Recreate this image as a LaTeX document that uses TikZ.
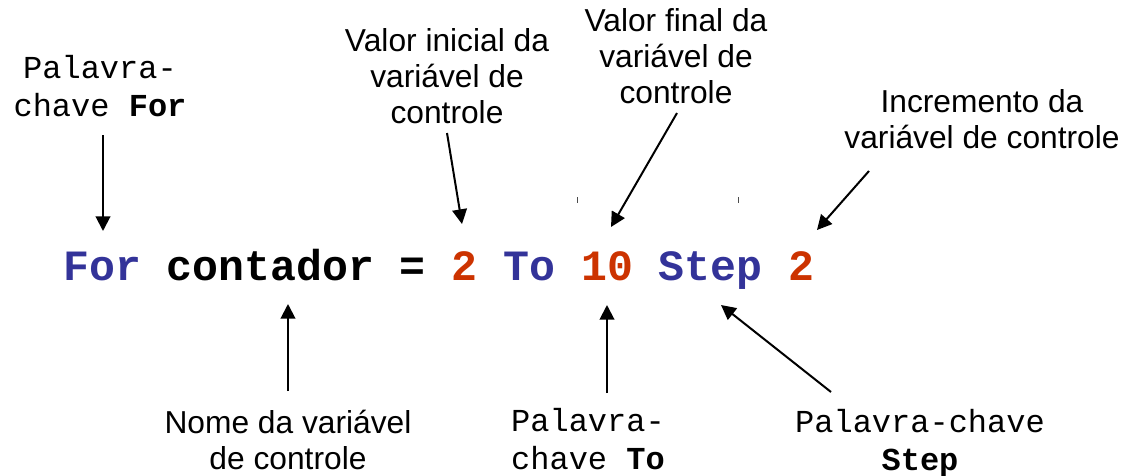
\documentclass[tikz,border=0pt]{standalone}
\usepackage{fontspec}
\setmainfont{Liberation Sans}
\newfontfamily\cour{Liberation Mono}
\usetikzlibrary{arrows.meta}
\definecolor{kwblue}{RGB}{51,51,153}
\definecolor{numred}{RGB}{204,51,0}
\begin{document}
\begin{tikzpicture}[x=0.75pt,y=-0.75pt,
  code/.style={inner sep=0pt, anchor=base west, font=\cour\bfseries\fontsize{32.4}{36}\selectfont},
  kw/.style={code, text=kwblue},
  num/.style={code, text=numred},
  plain/.style={code, text=black},
  lbl/.style={inner sep=0pt, anchor=base, align=center, font=\fontsize{23.8}{27}\selectfont},
  mlbl/.style={inner sep=0pt, anchor=base, align=center, font=\cour\fontsize{24}{28}\selectfont},
  arr/.style={line width=1.5pt, -{Triangle[length=11pt,width=11pt]}},
  tick/.style={line width=0.6pt, draw=black!70}]
\useasboundingbox (0,0) rectangle (1124,475);

% code line
\node[kw]    (kfor)  at (63,280)    {For};
\node[plain] (var)   at (166.6,280) {contador};
\node[plain] (eq)    at (399.7,280) {=};
\node[num]   (vini)  at (451.5,280) {2};
\node[kw]    (kto)   at (503.3,280) {To};
\node[num]   (vfin)  at (581,280)   {10};
\node[kw]    (kstep) at (658.7,280) {Step};
\node[num]   (vinc)  at (788.2,280) {2};

% labels (base = baseline of last line)
\node[mlbl] (lfor)  at (100,116) {Palavra-\\chave \textbf{For}};
\node[lbl]  (lini)  at (447,123) {Valor inicial da\\variável de\\controle};
\node[lbl]  (lfin)  at (676,103) {Valor final da\\variável de\\controle};
\node[lbl]  (linc)  at (982,148) {Incremento da\\variável de controle};
\node[lbl]  (lvar)  at (288,469) {Nome da variável\\de controle};
\node[mlbl] (lto)   at (588,469) {Palavra-\\chave \textbf{To}};
\node[mlbl] (lstep) at (920,470) {Palavra-chave\\\textbf{Step}};

% arrow end points
\coordinate (s1) at (103,135); \coordinate (t1) at (103,231);
\coordinate (s2) at (447,133); \coordinate (t2) at (462,224);
\coordinate (s3) at (677,113); \coordinate (t3) at (611,227);
\coordinate (s4) at (869,171); \coordinate (t4) at (817,230);
\coordinate (s5) at (288,391); \coordinate (t5) at (288,304);
\coordinate (s6) at (607,393); \coordinate (t6) at (607,305);
\coordinate (s7) at (831,392); \coordinate (t7) at (721,305);

\draw[arr] (s1) -- (t1);
\draw[arr] (s2) -- (t2);
\draw[arr] (s3) -- (t3);
\draw[arr] (s4) -- (t4);
\draw[arr] (s5) -- (t5);
\draw[arr] (s6) -- (t6);
\draw[arr] (s7) -- (t7);

% small tick marks
\coordinate (m1a) at (577,197); \coordinate (m1b) at (577,203);
\coordinate (m2a) at (738,197); \coordinate (m2b) at (738,203);
\draw[tick] (m1a) -- (m1b);
\draw[tick] (m2a) -- (m2b);
\end{tikzpicture}
\end{document}
